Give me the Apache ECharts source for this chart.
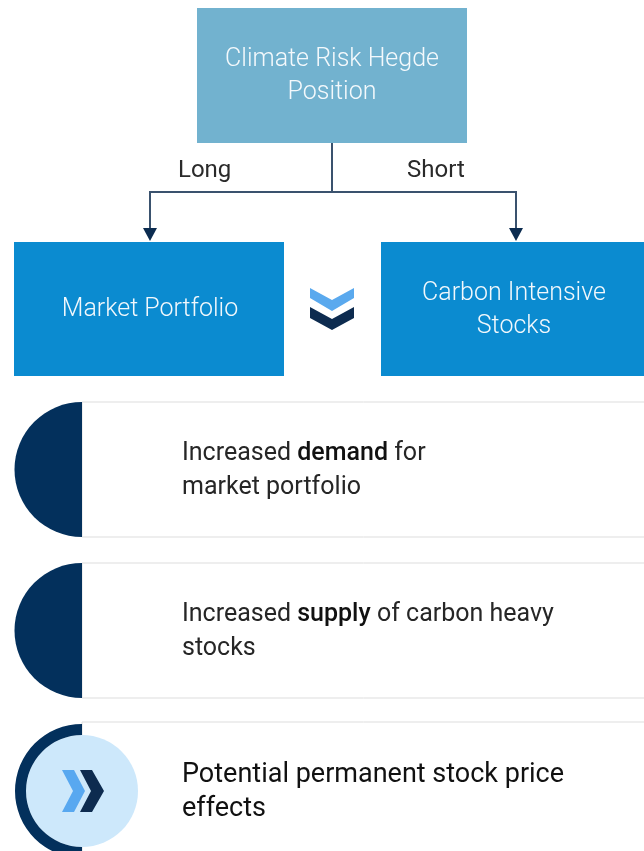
<!DOCTYPE html>
<html>
<head>
<meta charset="utf-8">
<script src="https://cdn.jsdelivr.net/npm/echarts@6/dist/echarts.min.js"></script>
<style>
  html, body { margin: 0; padding: 0; background: #fff; }
  #chart { width: 644px; height: 851px; }
</style>
</head>
<body>
<div id="chart"></div>
<script>
// diagram content
const topLabel = ['Climate Risk Hegde', 'Position'];
const branchLabels = ['Long', 'Short'];
const boxLabels = [['Market Portfolio'], ['Carbon Intensive', 'Stocks']];
const effectLines = [
  ['{n|Increased }{b|demand}{n| for}', '{n|market portfolio}'],
  ['{n|Increased }{b|supply}{n| of carbon heavy}', '{n|stocks}'],
  ['{p|Potential permanent stock price}', '{p|effects}']
];

const NAVY = '#03305c';
const LINE = '#3a526e';
const FONT = 'Roboto, "Noto Sans", sans-serif';

const chart = echarts.init(document.getElementById('chart'));

// layout
const topBox = { x: 197, y: 8, w: 270, h: 135 };
const boxes = [
  { x: 14, y: 242, w: 270, h: 134 },
  { x: 381, y: 242, w: 270, h: 134 }
];
const rows = [402, 563, 722];
const rowH = 135;
const arcX = 82;
const forkY = 192;
const arrowX = [150, 516];

const elements = [];

// top box
elements.push({
  type: 'rect',
  shape: { x: topBox.x, y: topBox.y, width: topBox.w, height: topBox.h },
  style: { fill: '#72b2cf' }
});
elements.push({
  type: 'text',
  style: {
    text: topLabel.join('\n'),
    x: topBox.x + topBox.w / 2, y: topBox.y + topBox.h / 2 + 1,
    align: 'center', verticalAlign: 'middle',
    font: '300 25px ' + FONT, lineHeight: 33, fill: '#f4f9fc'
  }
});

// connector lines
elements.push({
  type: 'polyline',
  shape: { points: [[332, topBox.y + topBox.h], [332, forkY]] },
  style: { stroke: LINE, lineWidth: 2, fill: null }
});
elements.push({
  type: 'polyline',
  shape: { points: [[arrowX[0], 230], [arrowX[0], forkY], [arrowX[1], forkY], [arrowX[1], 230]] },
  style: { stroke: LINE, lineWidth: 2, fill: null }
});
arrowX.forEach(function (ax) {
  elements.push({
    type: 'polygon',
    shape: { points: [[ax - 7, 228], [ax + 7, 228], [ax, 241]] },
    style: { fill: '#0c2c50' }
  });
});
[178, 407].forEach(function (lx, i) {
  elements.push({
    type: 'text',
    style: {
      text: branchLabels[i], x: lx, y: 171,
      align: 'left', verticalAlign: 'middle',
      font: '24px ' + FONT, fill: '#2a2a2a'
    }
  });
});

// two blue boxes
boxes.forEach(function (b, i) {
  elements.push({
    type: 'rect',
    shape: { x: b.x, y: b.y, width: b.w, height: b.h },
    style: { fill: '#0b8bd0' }
  });
  elements.push({
    type: 'text',
    style: {
      text: boxLabels[i].join('\n'),
      x: i === 0 ? 150 : 514, y: b.y + b.h / 2 + 1,
      align: 'center', verticalAlign: 'middle',
      font: '300 25px ' + FONT, lineHeight: 33, fill: '#f2f8fc'
    }
  });
});

// double chevron between boxes
elements.push({
  type: 'polygon',
  shape: { points: [[310, 288], [332, 300], [354, 288], [354, 298], [332, 311], [310, 298]] },
  style: { fill: '#5aa9ee' }
});
elements.push({
  type: 'polygon',
  shape: { points: [[310, 307], [332, 319], [354, 307], [354, 318], [332, 330], [310, 318]] },
  style: { fill: '#0d2b4f' }
});

// effect rows
const rich = {
  n: { font: '25px ' + FONT, fill: '#262626', lineHeight: 34 },
  b: { font: '500 25px ' + FONT, fill: '#111', lineHeight: 34 },
  p: { font: '27px ' + FONT, fill: '#111', lineHeight: 34 }
};
rows.forEach(function (ry, i) {
  const cy = ry + rowH / 2;
  elements.push({
    type: 'rect',
    shape: { x: arcX, y: ry, width: 600, height: i === 2 ? 300 : rowH },
    style: { fill: '#fff', stroke: '#dddddd', lineWidth: 1 }
  });
  if (i < 2) {
    elements.push({
      type: 'sector',
      shape: { cx: arcX, cy: cy, r: 67.5, r0: 0, startAngle: Math.PI / 2, endAngle: Math.PI * 1.5, clockwise: true },
      style: { fill: NAVY }
    });
  } else {
    const c = ry + 69;
    elements.push({
      type: 'circle',
      shape: { cx: arcX, cy: c, r: 56 },
      style: { fill: '#cde8fb' }
    });
    elements.push({
      type: 'sector',
      shape: { cx: arcX, cy: c, r: 67, r0: 56, startAngle: Math.PI / 2, endAngle: Math.PI * 1.5, clockwise: true },
      style: { fill: NAVY }
    });
    elements.push({
      type: 'polygon',
      shape: { points: [[62, c - 21], [74, c - 21], [85, c], [74, c + 21], [62, c + 21], [73, c]] },
      style: { fill: '#58a8f0' }
    });
    elements.push({
      type: 'polygon',
      shape: { points: [[80, c - 21], [92, c - 21], [104, c], [92, c + 21], [80, c + 21], [91, c]] },
      style: { fill: '#0d2b4f' }
    });
  }
  elements.push({
    type: 'text',
    style: {
      text: effectLines[i].join('\n'),
      x: 182, y: cy + (i === 2 ? 3 : 1),
      align: 'left', verticalAlign: 'middle',
      rich: rich
    }
  });
});

chart.setOption({
  backgroundColor: '#fff',
  animation: false,
  graphic: { elements: elements }
});
</script>
</body>
</html>
